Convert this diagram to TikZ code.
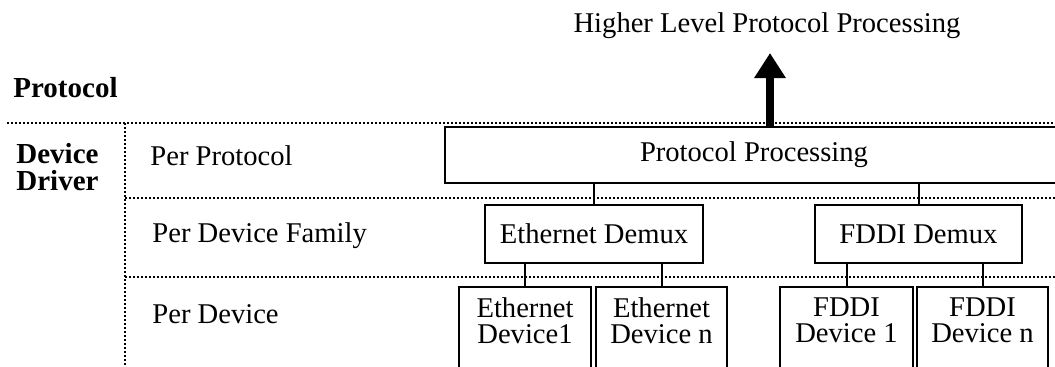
\documentclass[tikz,border=0pt]{standalone}
\usepackage{fontspec}
\setmainfont{Liberation Serif}
\usetikzlibrary{arrows.meta}
\newcommand\dgfont{\fontsize{14.3}{13}\selectfont}
\newcommand\dgbold{\fontsize{14.5}{13.5}\selectfont\bfseries}
\tikzset{
  box/.style={draw, line width=1pt, inner sep=0pt, font=\dgfont},
  devbox/.style={box, minimum width=#1, minimum height=44pt},
  devlabel/.style={anchor=north, yshift=-5.5pt, align=center, inner sep=0pt, font=\dgfont},
  wire/.style={line width=1pt},
  sep/.style={line width=1.4pt, dash pattern=on 1.1pt off 0.9pt},
  txt/.style={inner sep=0pt, font=\dgfont},
  btxt/.style={inner sep=0pt, font=\dgbold, align=left},
  bigarrow/.style={line width=4pt, -{Triangle[width=15pt,length=12.5pt]}}
}
\begin{document}
\begin{tikzpicture}[x=0.5pt,y=-0.5pt]
\useasboundingbox (0,0) rectangle (1055,366);
\clip (0,0) rectangle (1055,366);
\fill[white] (0,0) rectangle (1055,366);

% separators
\draw[sep] (7,123) -- (1055,123);
\draw[sep] (125,123) -- (125,366);
\draw[sep] (125,198) -- (1055,198);
\draw[sep] (125,277) -- (1055,277);

% left labels
\node[btxt, anchor=base west] (protolbl) at (13,97) {Protocol};
\node[btxt, anchor=north west] (ddlbl) at (16,142.5) {Device\\Driver};
\node[txt, anchor=base west] (perproto) at (150,165) {Per Protocol};
\node[txt, anchor=base west] (perfam) at (152,242) {Per Device Family};
\node[txt, anchor=base west] (perdev) at (152,323) {Per Device};

% top text
\node[txt, anchor=base] (higher) at (767,32) {Higher Level Protocol Processing};
\coordinate (tip) at (770,53);

% boxes
\node[box, minimum width=309pt, minimum height=28pt] (pp) at (754,155) {Protocol Processing};
\node[box, minimum width=109pt, minimum height=29pt] (ed) at (594,234) {Ethernet Demux};
\node[box, minimum width=103.5pt, minimum height=29pt] (fd) at (918.5,234) {FDDI Demux};

\node[devbox=66pt, label={[devlabel]north:Ethernet\\Device1}] (e1) at (525,331) {};
\node[devbox=65.5pt, label={[devlabel]north:Ethernet\\Device n}] (en) at (661.5,331) {};
\node[devbox=66.5pt, label={[devlabel]north:FDDI\\Device 1}] (f1) at (846.5,331) {};
\node[devbox=65.5pt, label={[devlabel]north:FDDI\\Device n}] (fn) at (982.5,331) {};

% connectors
\draw[bigarrow] (pp.north -| tip) -- (tip);
\draw[wire] (pp.south -| ed.north) -- (ed.north);
\draw[wire] (pp.south -| fd.north) -- (fd.north);
\draw[wire] (ed.south -| e1.north) -- (e1.north);
\draw[wire] (ed.south -| en.north) -- (en.north);
\draw[wire] (fd.south -| f1.north) -- (f1.north);
\draw[wire] (fd.south -| fn.north) -- (fn.north);
\end{tikzpicture}
\end{document}
